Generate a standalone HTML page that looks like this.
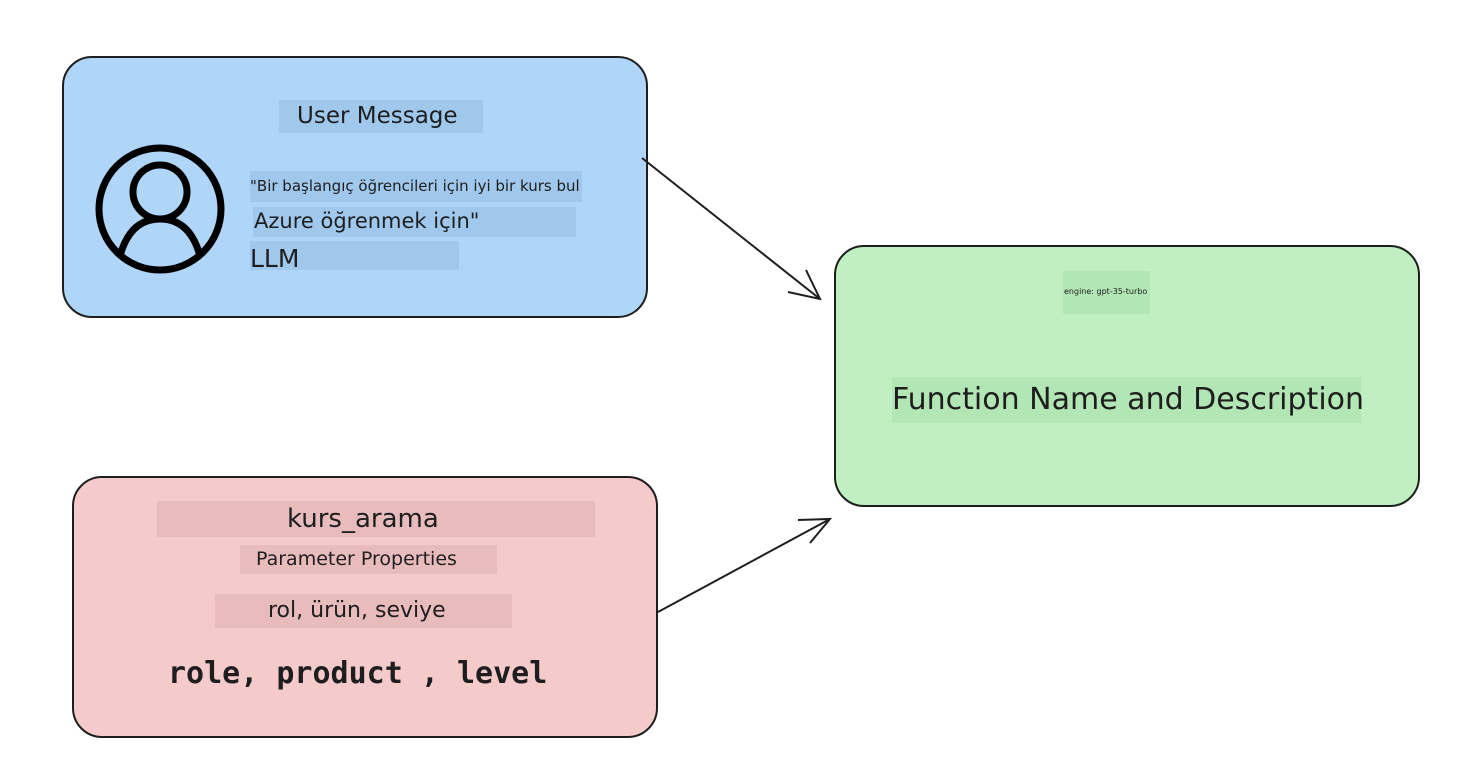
<!DOCTYPE html>
<html><head><meta charset="utf-8"><style>
body{margin:0;width:1484px;height:776px;background:#fff;position:relative;overflow:hidden;font-family:"DejaVu Sans","Liberation Sans",sans-serif;color:#1e1e1e}
.box{position:absolute;border:2px solid #1e1e1e;border-radius:30px;box-sizing:border-box}
.t{position:absolute;white-space:nowrap}
.hl{position:absolute}
</style></head><body>
<div class="box" style="left:62px;top:56px;width:586px;height:262px;background:#afd6f9"></div>
<div class="box" style="left:834px;top:245px;width:586px;height:262px;background:#c0f0c2"></div>
<div class="box" style="left:72px;top:476px;width:586px;height:262px;background:#f5cacb"></div>

<div class="hl" style="left:279px;top:100px;width:204px;height:33px;background:#9fc8ec"></div>
<div class="t" style="left:297px;top:103px;font-size:23px">User Message</div>
<div class="hl" style="left:250px;top:171px;width:332px;height:31px;background:#9fc8ec"></div>
<div class="t" style="left:250px;top:177px;font-size:15px">"Bir başlangıç öğrencileri için iyi bir kurs bul</div>
<div class="hl" style="left:253px;top:207px;width:323px;height:30px;background:#9fc8ec"></div>
<div class="t" style="left:254px;top:209px;font-size:21px">Azure öğrenmek için"</div>
<div class="hl" style="left:250px;top:241px;width:209px;height:29px;background:#9fc8ec"></div>
<div class="t" style="left:250px;top:244px;font-size:25px">LLM</div>

<svg style="position:absolute;left:0;top:0" width="1484" height="776">
<circle cx="160" cy="209" r="61" fill="none" stroke="#000" stroke-width="7"/>
<circle cx="160" cy="192" r="27" fill="none" stroke="#000" stroke-width="7"/>
<path d="M120 256 Q130 219 160 219 Q190 219 200 256" fill="none" stroke="#000" stroke-width="7"/>
<g stroke="#1e1e1e" stroke-width="2" fill="none">
<path d="M642 158 L820 299"/><path d="M788 292 L820 299 L806 270"/>
<path d="M658 612 L830 519"/><path d="M798 520 L830 519 L810 543"/>
</g>
</svg>

<div class="hl" style="left:1063px;top:271px;width:87px;height:43px;background:#b2e6b4"></div>
<div class="t" style="left:1064px;top:287px;font-size:8px">engine: gpt-35-turbo</div>
<div class="hl" style="left:892px;top:377px;width:469px;height:46px;background:#b2e6b4"></div>
<div class="t" style="left:892px;top:382px;font-size:30px">Function Name and Description</div>

<div class="hl" style="left:157px;top:501px;width:438px;height:36px;background:#e8bcbd"></div>
<div class="t" style="left:287px;top:504px;font-size:26px">kurs_arama</div>
<div class="hl" style="left:240px;top:545px;width:257px;height:29px;background:#e8bcbd"></div>
<div class="t" style="left:256px;top:548px;font-size:19px">Parameter Properties</div>
<div class="hl" style="left:215px;top:594px;width:297px;height:34px;background:#e8bcbd"></div>
<div class="t" style="left:268px;top:598px;font-size:22px">rol, ürün, seviye</div>
<div class="t" style="left:168px;top:656px;font-size:30px;font-weight:bold;font-family:'DejaVu Sans Mono','Liberation Mono',monospace">role, product , level</div>
</body></html>
